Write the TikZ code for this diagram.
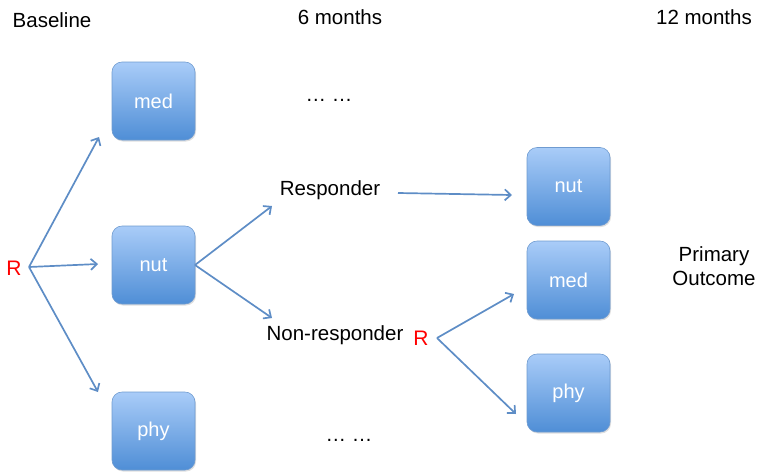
\documentclass[tikz,border=0pt]{standalone}
\usepackage{fontspec}
\setmainfont{Liberation Sans}
\usetikzlibrary{arrows.meta,shadows}
\definecolor{boxtop}{HTML}{A9CCF8}
\definecolor{boxbot}{HTML}{4F8ED6}
\definecolor{boxline}{HTML}{6F9BD0}
\definecolor{arr}{HTML}{5E8DC6}
\tikzset{
  box/.style={draw=boxline, line width=0.6pt, rounded corners=10pt, minimum width=83pt, minimum height=78pt,
    top color=boxtop, bottom color=boxbot, text=white, font=\fontsize{20}{24}\selectfont,
    drop shadow={opacity=0.25, shadow xshift=1pt, shadow yshift=-1.5pt}},
  lbl/.style={font=\fontsize{20.5}{24}\selectfont, text=black, inner sep=1pt},
  rlbl/.style={font=\fontsize{21}{24}\selectfont, text=red, inner sep=1pt},
  conn/.style={draw=arr, line width=1.7pt, -{Straight Barb[length=6pt,width=11pt]}}
}
\begin{document}
\begin{tikzpicture}[x=1pt,y=-1pt]
\useasboundingbox (0,0) rectangle (758,472);
% headers
\node[lbl] (base) at (52,20) {Baseline};
\node[lbl] (six) at (340,17) {6 months};
\node[lbl] (twelve) at (704,17) {12 months};
% left boxes
\node[box] (med1) at (153.5,101) {med};
\node[box] (nut1) at (153.5,265) {nut};
\node[box] (phy1) at (153.5,431) {phy};
% right boxes
\node[box] (nut2) at (568.5,186.5) {nut};
\node[box] (med2) at (568.5,280) {med};
\node[box] (phy2) at (568.5,393) {phy};
% R
\node[rlbl] (r1) at (14,268) {R};
\coordinate (r1o) at (29,267);
\node[rlbl] (r2) at (421,338) {R};
\coordinate (r2o) at (437,338);
% labels
\node[lbl] (resp) at (330,190) {Responder};
\node[lbl] (nonresp) at (335,335) {Non-responder};
\node[lbl] (dots1) at (329,100) {… …};
\node[lbl] (dots2) at (349,440) {… …};
\node[lbl, align=center] (prim) at (714,266) {Primary\\Outcome};
% connectors
\coordinate (a1) at (99,137);
\coordinate (a2) at (98,264);
\coordinate (a3) at (98,392);
\draw[conn] (r1o) -- (a1);
\draw[conn] (r1o) -- (a2);
\draw[conn] (r1o) -- (a3);
\coordinate (nutr) at (195,265);
\coordinate (b1) at (272,206);
\coordinate (b2) at (272,318);
\draw[conn] (nutr) -- (b1);
\draw[conn] (nutr) -- (b2);
\coordinate (c0) at (398,193);
\coordinate (c1) at (512,195);
\draw[conn] (c0) -- (c1);
\coordinate (d1) at (514,294);
\coordinate (d2) at (516,414);
\draw[conn] (r2o) -- (d1);
\draw[conn] (r2o) -- (d2);
\end{tikzpicture}
\end{document}
